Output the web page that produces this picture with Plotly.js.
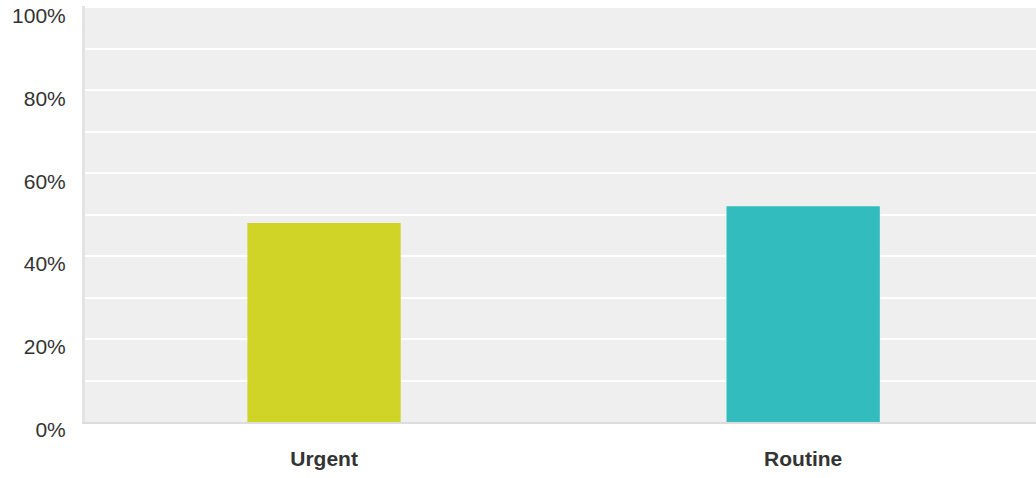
<!DOCTYPE html>
<html><head><meta charset="utf-8">
<script src="https://cdn.plot.ly/plotly-3.0.1.min.js"></script>
<style>html,body{margin:0;padding:0;background:#fff;}#chart{width:1036px;height:478px;}</style>
</head><body><div id="chart"></div>
<script>
const categories = ["Urgent", "Routine"];
const values = [48, 52];
const barColors = ["#cfd426", "#33bcbe"];
const yTickVals = [0, 20, 40, 60, 80, 100];
const yTickText = ["0%", "20%", "40%", "60%", "80%", "100%"];

const trace = {
  type: "bar",
  x: categories,
  y: values,
  width: 0.32,
  marker: {color: barColors},
  hoverinfo: "none"
};

const layout = {
  width: 1036, height: 478,
  margin: {l: 85, r: 0, t: 6, b: 56},
  paper_bgcolor: "#ffffff",
  plot_bgcolor: "#efefef",
  showlegend: false,
  font: {family: "Liberation Sans, Arial, sans-serif", color: "#333333"},
  xaxis: {
    type: "category",
    range: [-0.499, 1.486],
    showgrid: false,
    showline: true, linecolor: "#dcdcdc", linewidth: 2,
    ticks: "", ticklabelstandoff: 17,
    tickfont: {size: 21, color: "#333333", weight: "bold"},
    zeroline: false, fixedrange: true
  },
  yaxis: {
    range: [0, 100.3],
    tickvals: yTickVals, ticktext: yTickText,
    showgrid: true, gridcolor: "#ffffff", gridwidth: 2,
    minor: {dtick: 10, tick0: 0, showgrid: true, gridcolor: "#ffffff", gridwidth: 2},
    showline: true, linecolor: "#e3e3e3", linewidth: 3,
    ticks: "", ticklabelstandoff: 12, ticklabelshift: 8,
    ticklabeloverflow: "allow",
    tickfont: {size: 21, color: "#333333"},
    zeroline: false, fixedrange: true
  }
};

Plotly.newPlot("chart", [trace], layout, {displayModeBar: false, staticPlot: true});
</script></body></html>
